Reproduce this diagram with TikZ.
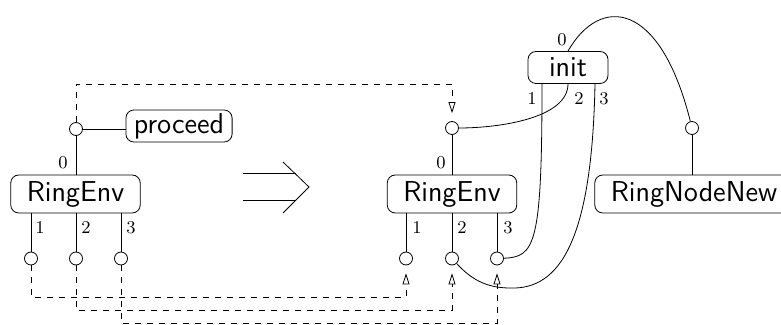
\documentclass[tikz,border=0pt]{standalone}
\usepackage{amsmath}
\usepackage{tikz}
\usetikzlibrary{arrows.meta,calc}
\tikzset{
    box/.style={draw, rounded corners=4pt, font=\sffamily\Large,
    	inner xsep=8pt, inner ysep=0pt, minimum height=19pt, minimum width=64pt}
}
\tikzset{
    tag/.style={box, inner xsep=4pt, minimum height=16pt, minimum width=40pt}
}
\tikzset{
	port/.style={circle, draw, fill=white, inner sep=0pt, minimum size=6.5pt}
}
\tikzset{
	num/.style={inner sep=0pt, font=\small}
}
\tikzset{
	flow/.style={dashed, shorten >=4pt, -{Triangle[open, length=5.5pt, width=3.5pt]}}
}

\begin{document}
\begin{tikzpicture}[x=0.5pt, y=-0.5pt]
  \useasboundingbox (0,0) rectangle (781,325);

  \node (envL) [box] at (75.5, 194) {RingEnv};
  \node (envR) [box] at (452, 194) {RingEnv};
  \node (nodeNew) [box] at (694, 194) {RingNodeNew};
  \node (proc) [tag] at (179, 126) {proceed};
  \node (init) [tag] at (568, 67.5) {init};

  \node (l0) [port] at (76, 129) {};
  \node (l1) [port] at (31, 258.5) {};
  \node (l2) [port] at (76, 258.5) {};
  \node (l3) [port] at (121, 258.5) {};
  \node (r0) [port] at (452, 128) {};
  \node (r1) [port] at (406, 258.5) {};
  \node (r2) [port] at (452, 258.5) {};
  \node (r3) [port] at (497, 258.5) {};
  \node (n0) [port] at (692, 128) {};

  \node (lL0) [num] at (63, 163) {0};
  \node (lL1) [num] at (40, 228) {1};
  \node (lL2) [num] at (86, 228) {2};
  \node (lL3) [num] at (131, 228) {3};
  \node (lR0) [num] at (441, 163) {0};
  \node (lR1) [num] at (417, 228) {1};
  \node (lR2) [num] at (462, 228) {2};
  \node (lR3) [num] at (508, 228) {3};
  \node (lI0) [num] at (562, 40) {0};
  \node (lI1) [num] at (532, 99) {1};
  \node (lI2) [num] at (579, 99) {2};
  \node (lI3) [num] at (604, 99) {3};

  \coordinate (top) at (0, 84);
  \coordinate (b1) at (0, 297);
  \coordinate (b2) at (0, 310);
  \coordinate (b3) at (0, 323);

  \draw (l0) edge (l0 |- envL.north);
  \draw (l0) edge (l0 -| proc.west);
  \draw (l1) edge (l1 |- envL.south);
  \draw (l2) edge (l2 |- envL.south);
  \draw (l3) edge (l3 |- envL.south);
  \draw (r0) edge (r0 |- envR.north);
  \draw (r1) edge (r1 |- envR.south);
  \draw (r2) edge (r2 |- envR.south);
  \draw (r3) edge (r3 |- envR.south);
  \draw (n0) edge (n0 |- nodeNew.north);

  \draw (init.north) .. controls (600, -5) and (660, 0) .. (n0);
  \draw (init.south) .. controls (568, 118) and (500, 128) .. (r0);
  \draw ([xshift=-13pt]init.south) .. controls (542, 245) and (535, 257) .. (r3);
  \draw ([xshift=13.5pt]init.south) .. controls (592, 240) and (560, 290) .. (510, 288)
    .. controls (485, 288) and (470, 278) .. (r2);

  \draw [flow] (l0) -- (l0 |- top) -| (r0);
  \draw [flow] (l1) -- (l1 |- b1) -| (r1);
  \draw [flow] (l2) -- (l2 |- b2) -| (r2);
  \draw [flow] (l3) -- (l3 |- b3) -| (r3);

  \draw (243, 173) -- (296, 173);
  \draw (243, 200) -- (296, 200);
  \draw (283, 162) -- (309, 187) -- (283, 213);
\end{tikzpicture}
\end{document}
